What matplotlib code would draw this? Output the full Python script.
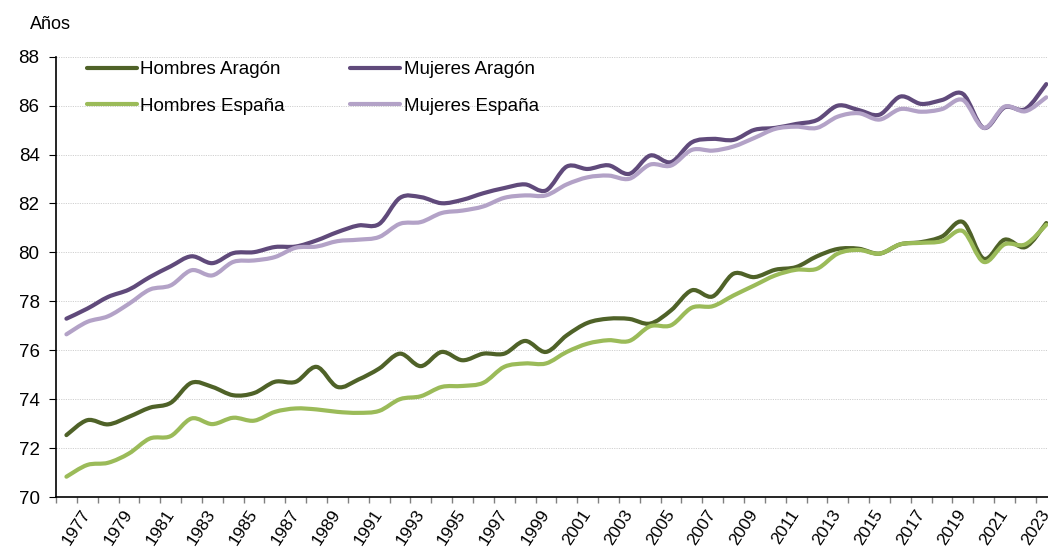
import numpy as np
import matplotlib
matplotlib.use("Agg")
import matplotlib.pyplot as plt
from matplotlib.path import Path
from matplotlib.patches import PathPatch
from matplotlib.lines import Line2D

plt.rcParams['font.family'] = ['Liberation Sans', 'DejaVu Sans']

# Esperanza de vida al nacer, 1976-2023
years = list(range(1976, 2024))

hombres_aragon = [72.53, 73.14, 72.97, 73.28, 73.65, 73.85, 74.67, 74.50, 74.16, 74.25,
                  74.71, 74.71, 75.32, 74.50, 74.80, 75.25, 75.86, 75.35, 75.93, 75.59,
                  75.86, 75.86, 76.38, 75.93, 76.61, 77.12, 77.29, 77.28, 77.09, 77.63,
                  78.45, 78.20, 79.13, 78.99, 79.29, 79.40, 79.84, 80.14, 80.15, 79.95,
                  80.33, 80.42, 80.65, 81.24, 79.74, 80.52, 80.22, 81.20]
hombres_espana = [70.83, 71.31, 71.40, 71.78, 72.39, 72.49, 73.21, 72.98, 73.24, 73.12,
                  73.48, 73.62, 73.58, 73.48, 73.44, 73.52, 74.00, 74.12, 74.50, 74.54,
                  74.67, 75.32, 75.46, 75.46, 75.93, 76.27, 76.41, 76.38, 76.98, 77.02,
                  77.74, 77.80, 78.24, 78.65, 79.06, 79.29, 79.33, 79.95, 80.10, 79.95,
                  80.33, 80.39, 80.46, 80.87, 79.61, 80.33, 80.33, 81.13]
mujeres_aragon = [77.29, 77.70, 78.18, 78.48, 78.99, 79.43, 79.84, 79.56, 79.97, 80.01,
                  80.22, 80.24, 80.49, 80.83, 81.10, 81.16, 82.23, 82.26, 82.01, 82.15,
                  82.42, 82.63, 82.78, 82.53, 83.51, 83.41, 83.56, 83.21, 83.96, 83.69,
                  84.50, 84.64, 84.60, 85.01, 85.09, 85.25, 85.41, 86.00, 85.82, 85.63,
                  86.37, 86.07, 86.23, 86.48, 85.09, 85.93, 85.86, 86.88]
mujeres_espana = [76.65, 77.16, 77.39, 77.90, 78.48, 78.65, 79.27, 79.06, 79.61, 79.67,
                  79.81, 80.19, 80.24, 80.46, 80.52, 80.63, 81.17, 81.24, 81.61, 81.71,
                  81.88, 82.23, 82.33, 82.33, 82.78, 83.07, 83.14, 83.01, 83.59, 83.55,
                  84.19, 84.16, 84.33, 84.68, 85.05, 85.14, 85.09, 85.55, 85.69, 85.43,
                  85.86, 85.75, 85.86, 86.23, 85.09, 85.96, 85.77, 86.34]

series = [
    ("Hombres Aragón", hombres_aragon, "#4F6228"),
    ("Mujeres Aragón", mujeres_aragon, "#604A7B"),
    ("Hombres España", hombres_espana, "#9BBB59"),
    ("Mujeres España", mujeres_espana, "#B3A2C7"),
]


def linea_suavizada(ax, xs, ys, color, lw=3.0):
    # curva de Bezier tipo Catmull-Rom (como la linea suavizada de Excel)
    pts = np.column_stack([xs, ys]).astype(float)
    ext = np.vstack([pts[0], pts, pts[-1]])
    verts = [tuple(pts[0])]
    codes = [Path.MOVETO]
    for i in range(len(pts) - 1):
        p0, p1, p2, p3 = ext[i], ext[i + 1], ext[i + 2], ext[i + 3]
        c1 = p1 + (p2 - p0) / 6.0
        c2 = p2 - (p3 - p1) / 6.0
        verts += [tuple(c1), tuple(c2), tuple(p2)]
        codes += [Path.CURVE4] * 3
    patch = PathPatch(Path(verts, codes), facecolor='none', edgecolor=color,
                      lw=lw, capstyle='round', joinstyle='round')
    ax.add_patch(patch)


fig = plt.figure(figsize=(10.48, 5.51), dpi=100)
ax = fig.add_axes([56 / 1048, 1 - 497 / 551, 1000.7 / 1048, (497 - 56.7) / 551])

x = np.arange(len(years))
for nombre, valores, color in series:
    linea_suavizada(ax, x, valores, color)

ax.set_xlim(-0.5, len(years) - 0.5)
ax.set_ylim(70, 88)

# rejilla punteada
ax.set_yticks(range(70, 89, 2))
ax.yaxis.grid(True, color='#d0d0d0', linestyle=(0, (1.2, 1.2)), linewidth=0.7)
ax.set_axisbelow(True)
ax.tick_params(axis='y', labelsize=13.5, length=4.8, width=0.8, pad=7.0, colors='black')

# marcas entre categorias, etiquetas cada dos años
ax.set_xticks(np.arange(len(years) + 1) - 0.5, minor=True)
idx = [i for i, y in enumerate(years) if y % 2 == 1]
ax.set_xticks(idx)
ax.set_xticklabels([str(years[i]) for i in idx], rotation=57, ha='right',
                   va='center', rotation_mode='anchor', fontsize=12.5)
ax.tick_params(axis='x', which='major', length=0, pad=10)
ax.tick_params(axis='x', which='minor', length=4.5, width=1.0, color='#808080')

for s in ['top', 'right']:
    ax.spines[s].set_visible(False)
ax.spines['left'].set_linewidth(1.2)
ax.spines['bottom'].set_linewidth(1.2)

fig.text(30 / 1048, 1 - 29 / 551, "Años", fontsize=13, va='baseline', ha='left')

handles = {nombre: Line2D([], [], color=color, lw=3.0, solid_capstyle='round')
           for nombre, valores, color in series}
orden = ["Hombres Aragón", "Hombres España", "Mujeres Aragón", "Mujeres España"]
fig.legend([handles[n] for n in orden], orden, ncol=2, frameon=False,
           loc='upper left', bbox_to_anchor=(86.5 / 1048, 1 - 61 / 551),
           fontsize=13.5, handlelength=2.67, handletextpad=0.18,
           labelspacing=1.04, columnspacing=3.5, borderpad=0, borderaxespad=0)

fig.savefig("out.png", dpi=100)
